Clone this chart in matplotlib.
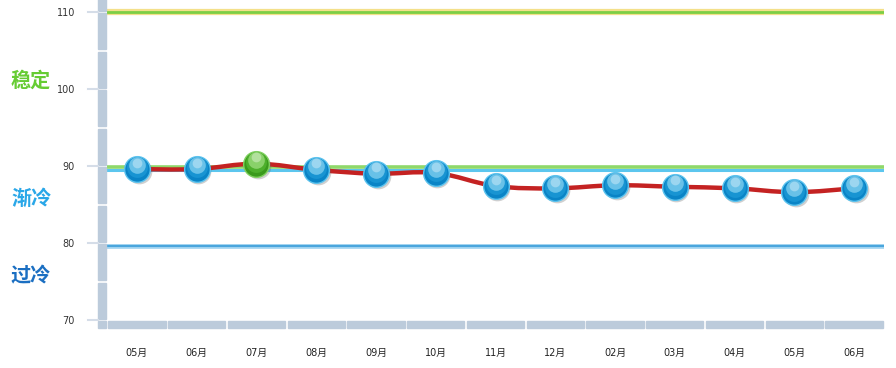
import matplotlib.pyplot as plt
import matplotlib.transforms as mtransforms
from matplotlib.path import Path
from matplotlib.patches import PathPatch, Rectangle

plt.rcParams['font.family'] = ['DejaVu Sans', 'Noto Sans CJK SC']

months = ["05月", "06月", "07月", "08月", "09月", "10月", "11月",
          "12月", "02月", "03月", "04月", "05月", "06月"]
values = [89.6, 89.6, 90.3, 89.5, 89.0, 89.1, 87.4,
          87.1, 87.5, 87.3, 87.1, 86.6, 87.1]
highlight_idx = [2]
y_ticks = [70, 80, 90, 100, 110]
zone_labels = ["稳定", "渐冷", "过冷"]
zone_label_y = [101.2, 85.8, 75.8]
zone_colors = ["#66cc33", "#2aa7e8", "#1b6fc2"]


def smooth_path(xs, ys, t=0.18):
    verts = [(xs[0], ys[0])]
    codes = [Path.MOVETO]
    n = len(xs)
    for i in range(n - 1):
        x0, y0 = xs[max(i - 1, 0)], ys[max(i - 1, 0)]
        x1, y1 = xs[i], ys[i]
        x2, y2 = xs[i + 1], ys[i + 1]
        x3, y3 = xs[min(i + 2, n - 1)], ys[min(i + 2, n - 1)]
        c1 = (x1 + (x2 - x0) * t, y1 + (y2 - y0) * t)
        c2 = (x2 - (x3 - x1) * t, y2 - (y3 - y1) * t)
        verts += [c1, c2, (x2, y2)]
        codes += [Path.CURVE4] * 3
    return Path(verts, codes)


def main():
    fig = plt.figure(figsize=(8.96, 3.68), dpi=100)
    ax = fig.add_axes([107 / 896, 48 / 368, (884 - 107) / 896, 320 / 368])
    ax.set_xlim(-0.5, len(months) - 0.5)
    ax.set_ylim(70, 111.56)
    for s in ax.spines.values():
        s.set_visible(False)

    xs = list(range(len(months)))
    ppx = 1 / 59.8          # x units per pixel
    ppy = 1 / 7.7           # y units per pixel

    # reference lines
    ax.axhline(110, color="#f4e08a", lw=4.5, zorder=1)
    ax.axhline(110, color="#7ccf45", lw=2, zorder=2)
    ax.axhline(89.85, color="#8fd86a", lw=2.6, zorder=2)
    ax.axhline(89.45, color="#5cc6ee", lw=2.2, zorder=1)
    ax.axhline(79.6, color="#a9d8f3", lw=3.5, zorder=1)
    ax.axhline(79.6, color="#4aa6dd", lw=1.6, zorder=2)

    # left axis band, segmented every 5 units
    for lo in range(70, 111, 5):
        hi = min(lo + 5, 111.56)
        ax.add_patch(Rectangle((-0.5 - 9 * ppx, lo + 1.2 * ppy), 8 * ppx,
                               hi - lo - 2.4 * ppy if hi - lo == 5 else hi - lo,
                               color="#bccbdb", clip_on=False, zorder=3))
    # bottom band
    ax.add_patch(Rectangle((-0.5 - 9 * ppx, 70 - 8 * ppy), 8 * ppx, 7.4 * ppy,
                           color="#bccbdb", clip_on=False, zorder=3))
    for i in xs:
        ax.add_patch(Rectangle((i - 0.5 + 1.2 * ppx, 70 - 8 * ppy), 1 - 2.4 * ppx,
                               7.4 * ppy, color="#bccbdb", clip_on=False, zorder=3))
    # tick marks
    for v in y_ticks:
        ax.plot([-0.5 - 19 * ppx, -0.5 - 9 * ppx], [v, v], color="#d5dde8",
                lw=1.5, clip_on=False, zorder=3)

    ax.set_yticks(y_ticks)
    ax.set_yticklabels([str(v) for v in y_ticks], fontsize=7, color="#333333")
    ax.tick_params(axis="y", length=0, pad=23)
    ax.set_xticks(xs)
    ax.set_xticklabels(months, fontsize=7, color="#222222",
                       family=['DejaVu Sans', 'Noto Sans CJK SC'])
    ax.tick_params(axis="x", length=0, pad=20)

    for lab, y, c in zip(zone_labels, zone_label_y, zone_colors):
        fig.text(11 / 896, ax.transData.transform((0, y))[1] / fig.bbox.height, lab,
                 fontsize=14.5, fontweight="bold", color=c, va="center", ha="left",
                 family=['Noto Sans CJK SC'])

    # red smooth line
    ax.add_patch(PathPatch(smooth_path(xs, values), fill=False, ec="#c42222",
                           lw=3.2, zorder=4, capstyle="round"))

    # glossy markers
    def off(dx, dy):
        return ax.transData + mtransforms.ScaledTranslation(dx / 72, dy / 72,
                                                            fig.dpi_scale_trans)

    for i, (x, v) in enumerate(zip(xs, values)):
        green = i in highlight_idx
        base = "#3a9a1c" if green else "#0a84c6"
        mid = "#56b834" if green else "#1f9bd8"
        edge = "#7fd060" if green else "#5cc3ee"
        hl = "#b2e994" if green else "#9fe0f8"
        ax.plot(x, v, "o", ms=18.5, color="#666666", alpha=0.3, mec="none",
                transform=off(1.2, -1.4), zorder=5)
        ax.plot(x, v, "o", ms=18.5, color=base, mec=edge, mew=1, zorder=6)
        ax.plot(x, v, "o", ms=15, color=mid, alpha=0.7, mec="none",
                transform=off(0, 1.2), zorder=7)
        ax.plot(x, v, "o", ms=12, color=hl, alpha=0.6, mec="none",
                transform=off(0, 3.0), zorder=8)
        ax.plot(x, v, "o", ms=7, color="white", alpha=0.35, mec="none",
                transform=off(0, 4.6), zorder=9)

    fig.savefig("out.png", dpi=100)


if __name__ == "__main__":
    main()
